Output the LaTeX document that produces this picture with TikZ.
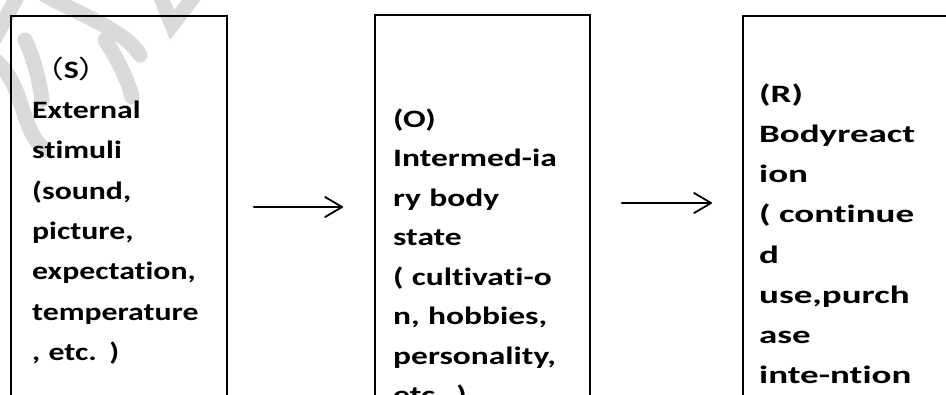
\documentclass[tikz,border=0pt]{standalone}
\usepackage{fontspec}
\setmainfont{Carlito}
\newfontfamily\fS[FakeStretch=1.27,Ligatures=NoCommon]{Carlito}
\newfontfamily\fO[FakeStretch=1.34,Ligatures=NoCommon]{Carlito}
\newfontfamily\fR[FakeStretch=1.48,Ligatures=NoCommon]{Carlito}
\newfontfamily\cjk[FakeStretch=1.27]{Noto Sans CJK SC}
\usetikzlibrary{arrows.meta,calc}
\definecolor{wm}{RGB}{218,218,218}
\begin{document}
\begin{tikzpicture}[x=1pt,y=-1pt,
  box/.style={draw=black,line width=1.8pt,minimum width=#1,minimum height=440pt,anchor=north west,inner sep=0pt},
  txt/.style={anchor=north west,inner sep=0pt,align=left,text width=240pt},
  arr/.style={line width=1.8pt,line cap=round,-{Straight Barb[length=17pt,width=20pt,line width=1.8pt,round]}},
  wmark/.style={wm,line width=15pt,line cap=round}]
\clip (0,0) rectangle (946,394);
\fill[white] (0,0) rectangle (946,394);
% watermark
\draw[wmark] (18,-5) -- (-5,38);
\draw[wmark] (-5,60) .. controls (25,85) and (20,130) .. (45,150);
\draw[wmark] (25,40) .. controls (35,60) and (40,85) .. (42,100);
\draw[wmark] (45,-5) .. controls (80,15) and (125,30) .. (140,55);
\draw[wmark] (105,40) .. controls (118,60) and (128,80) .. (132,97);
\draw[wmark] (160,-5) -- (172,25) -- (195,-5);
% boxes
\node[box=216pt] (S) at (10,15) {};
\node[box=215pt] (O) at (374,14) {};
\node[box=230pt] (R) at (742,15) {};
% texts
\node[txt,font=\fS\bfseries\fontsize{25}{40.3}\selectfont] (St) at (32,{78-28.2})
  {\strut{\cjk\mdseries （}S{\cjk\mdseries ）}\\External\\stimuli\\(sound,\\picture,\\expectation,\\temperature\\, etc. )};
\node[txt,font=\fO\bfseries\fontsize{25}{39.5}\selectfont] (Ot) at (393,{127-27.65})
  {\strut(O)\\Intermed-ia\\ry body\\state\\( cultivati-o\\n, hobbies,\\personality,\\etc. )};
\node[txt,font=\fR\bfseries\fontsize{25}{40.2}\selectfont] (Rt) at (759,{102-28.1})
  {\strut(R)\\Bodyreact\\ion\\( continue\\d\\use,purch\\ase\\inte-ntion};
% arrows
\draw[arr] ($(S.north east)+(26,192)$) -- ($(O.north west)+(-31,193)$);
\draw[arr] ($(O.north east)+(31,189)$) -- ($(R.north west)+(-30,188)$);
\end{tikzpicture}
\end{document}
